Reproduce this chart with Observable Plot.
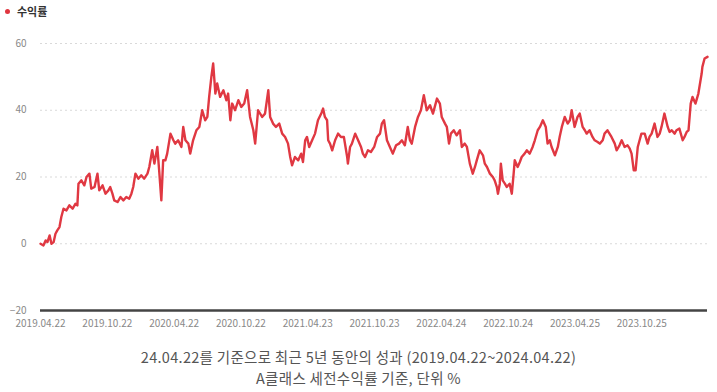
<!DOCTYPE html>
<html>
<head>
<meta charset="utf-8">
<script src="https://cdn.jsdelivr.net/npm/d3@7"></script>
<script src="https://cdn.jsdelivr.net/npm/@observablehq/plot@0.6"></script>
<style>
  html, body { margin: 0; padding: 0; background: #fff; }
  body { width: 717px; height: 392px; position: relative; overflow: hidden; font-family: "Noto Sans CJK KR", "Noto Sans", sans-serif; }
  #legend { position: absolute; left: 5px; top: 2px; font-size: 11px; font-weight: bold; color: #333; line-height: 18px; display: flex; align-items: center; }
  #legend .dot { width: 5px; height: 5px; border-radius: 50%; background: #e0353f; display: inline-block; margin-right: 7px; }
  #chart { position: absolute; left: 0; top: 0; }
  #caption { position: absolute; left: 0; top: 346px; width: 717px; text-align: center; font-size: 14.5px; letter-spacing: 0.3px; color: #555; line-height: 21px; }
</style>
</head>
<body>
<div id="chart"></div>
<div id="legend"><span class="dot"></span><span>수익률</span></div>
<div id="caption">24.04.22를 기준으로 최근 5년 동안의 성과 (2019.04.22~2024.04.22)<br>A클래스 세전수익률 기준, 단위 %</div>
<script>
// Days since 2019-04-22 for each reading
const dayOffsets = [0,8,14,19,25,30,36,41,46,52,57,63,71,79,88,96,101,104,112,120,126,134,139,148,156,161,170,178,186,191,197,202,211,219,227,235,243,249,254,260,268,276,284,293,298,306,312,320,325,331,336,342,347,356,364,369,377,386,391,397,405,410,418,427,435,443,451,457,462,468,473,479,484,492,501,509,514,520,525,533,542,550,558,566,574,583,588,596,607,615,624,629,637,645,654,662,670,678,684,689,697,706,714,719,725,730,736,744,752,760,769,774,779,785,788,793,799,807,815,823,831,840,842,848,853,862,870,878,883,889,897,905,914,922,930,935,941,949,957,965,974,982,990,998,1006,1012,1017,1026,1034,1042,1050,1058,1067,1075,1086,1094,1099,1108,1113,1119,1124,1132,1140,1149,1154,1162,1168,1176,1184,1190,1195,1203,1212,1217,1223,1231,1239,1244,1250,1253,1258,1261,1266,1272,1277,1285,1291,1296,1299,1307,1313,1318,1326,1332,1340,1348,1354,1362,1368,1376,1384,1389,1395,1400,1409,1417,1422,1428,1436,1444,1450,1455,1463,1471,1477,1485,1491,1496,1504,1512,1518,1526,1532,1540,1545,1553,1564,1573,1578,1586,1592,1600,1608,1614,1619,1625,1630,1636,1641,1646,1655,1663,1668,1674,1682,1690,1696,1701,1709,1718,1723,1729,1737,1742,1750,1759,1764,1770,1775,1781,1786,1794,1802,1811,1813,1819,1827];
// Return (%)
const returns = [0,-0.5,1,0.5,2.5,0,0.5,3,4,5,8,10.5,10,11.5,10.5,12,11.5,18,19,17.5,20,21,16.5,17,21,16,17.5,15,16,17,15,13,12.5,14,13,14,13.5,15,17,21,19.5,20.5,19.5,21,23,28,24,29,22,13,25,25,27,33,31,30,31,29,35,31,30,27,31,34,35,40,37,38,44,50,54,45,48,44,46,43,45,37,42,40,43,41,42,46,38,34,30,40,38,39,46,38,36,35,36,33,32,30,26,23.5,26,25,27,24.5,31,32,29,31,33,37,39,40.5,38,37,31,30,28,31,33,32,32,26,24,29,30,33,31,29,27,26,28,27.5,29,32,33,36,37,31,29,27,29.5,30,31,29.5,35,31,30,35,38,40,44.5,40,41.5,39,43.5,42,38,36,35,30,33,34,32.5,34,29,30,29,24,21,23,25,28,26.5,24,23,21,20,19,17,15,18,24,19,18,17,18,15,21,25,23,24.5,26,27,28,27,29,31,34,35,37,35,30,31,29,26.5,29,32,35,38,36,37,40,35,38,39,35,34,33,34,32,31,30.5,30,31,33,34,32,30,28,29.5,31,29,29.5,28.5,27,22,22,29,31,33,33,30,32,33,36,32,33,35,39,35,33.5,34,33,34,34.5,31,32,33.5,34,42,44,42,45,51,53,55.5,56];
const yTicks = [-20, 0, 20, 40, 60];
const xTickLabels = ["2019-04-22","2019-10-22","2020-04-22","2020-10-22","2021-04-23","2021-10-23","2022-04-24","2022-10-24","2023-04-25","2023-10-25"];

const start = new Date(Date.UTC(2019, 3, 22));
const end = new Date(Date.UTC(2024, 3, 22));
const data = dayOffsets.map((d, i) => ({date: d3.utcDay.offset(start, d), value: returns[i]}));
const xTicks = xTickLabels.map(s => new Date(s + "T00:00:00Z"));

const chart = Plot.plot({
  width: 717,
  height: 340,
  marginTop: 43,
  marginBottom: 30,
  marginLeft: 40,
  marginRight: 10,
  x: {type: "utc", domain: [start, end], ticks: xTicks, tickFormat: d3.utcFormat("%Y.%m.%d"), tickSize: 0, tickPadding: 9, label: null},
  y: {domain: [-20, 60], ticks: yTicks, tickSize: 0, tickPadding: 14, label: null},
  style: {fontFamily: "'Noto Sans CJK KR', 'Noto Sans', sans-serif", fontSize: "10px", color: "#888", background: "transparent"},
  marks: [
    Plot.ruleY(yTicks.filter(t => t > -20), {stroke: "#d9d9d9", strokeDasharray: "2,3", strokeWidth: 1}),
    Plot.line(data, {x: "date", y: "value", stroke: "#e03842", strokeWidth: 2.4, strokeLinejoin: "round"}),
    Plot.ruleY([-20], {stroke: "#444", strokeWidth: 2.5})
  ]
});
document.getElementById("chart").appendChild(chart);
</script>
</body>
</html>
